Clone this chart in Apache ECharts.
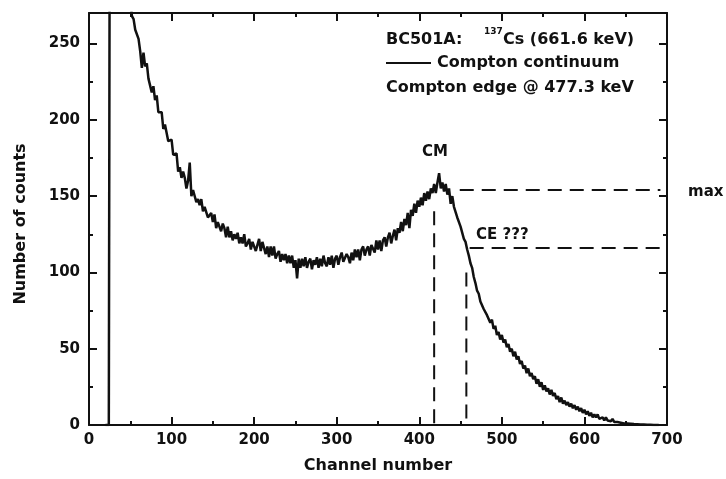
<!DOCTYPE html>
<html>
<head>
<meta charset="utf-8">
<script src="https://cdn.jsdelivr.net/npm/echarts@6/dist/echarts.min.js"></script>
<style>
  html, body { margin: 0; padding: 0; background: #fff; }
  #chart { width: 726px; height: 479px; }
</style>
</head>
<body>
<div id="chart"></div>
<script>
// Channel grid of the spectrum (every 2nd channel, starting at channel 20)
const channelStart = 20;
const channelStep = 2;
// Counts, one value per listed channel
const counts = [
  /*20*/ 0,0,0,620,820,700,600,520,460,415,
  /*40*/ 380,352,328,308,292,279,268,266,259,258,
  /*60*/ 253,245,234,244,235,237,227,228,218,222,
  /*80*/ 213,216,205,206,205,194,197,197,186,185,
  /*100*/ 187,177,176,178,166,169,162,166,162,155,
  /*120*/ 160,172,150,154,155,146,148,144,148,140,
  /*140*/ 143,144,136,136,139,133,138,129,133,134,
  /*160*/ 127,132,129,123,130,123,127,121,125,122,
  /*180*/ 126,119,123,119,125,117,119,122,115,120,
  /*200*/ 121,114,118,122,114,120,119,112,117,110,
  /*220*/ 117,111,117,109,112,114,107,112,108,112,
  /*240*/ 106,111,106,111,103,108,96,109,103,109,
  /*260*/ 104,110,103,107,109,102,108,105,110,103,
  /*280*/ 109,104,111,106,104,110,105,111,103,109,
  /*300*/ 111,105,110,113,107,106,112,110,106,113,
  /*320*/ 108,115,110,115,108,115,117,111,115,117,
  /*340*/ 111,118,117,113,121,115,121,114,121,123,
  /*360*/ 117,123,126,119,124,128,121,129,126,133,
  /*380*/ 127,135,131,139,129,141,137,145,139,147,
  /*400*/ 143,149,144,152,147,153,148,155,152,158,
  /*420*/ 152,159,165,155,159,153,158,151,155,145,
  /*440*/ 150,143,143,136,135,130,129,122,120,115,
  /*460*/ 111,106,103,97,93,88,86,81,80,76,
  /*480*/ 77,72,73,67,69,63,65,59,61,56,
  /*500*/ 59,54,56,51,53,48,50,45,48,43,
  /*520*/ 45,40,42,37,39,34,37,32,34,30,
  /*540*/ 32,27,30,25,28,23,26,22,24,20,
  /*560*/ 23,19,21,17,19,15,18,14,16,13,
  /*580*/ 15,12,14,11,13,10,12,9,11,8,
  /*600*/ 10,7,9,6,8,5,7,5,7,4,
  /*620*/ 4,5,3,5,3,4,2.5,4,2,3,
  /*640*/ 2,3,1.5,2.5,1,2,1,1.5,0.8,1.2,
  /*660*/ 0.6,1,0.5,0.8,0.3,0.6,0.3,0.4,0.2,0.3,
  /*680*/ 0.1,0.2,0,0.1,0,0
];
// Annotation lines (channel, counts)
const cmLine = [[418, 140], [418, 0]];
const maxLine = [[449, 154], [692, 154]];
const ceVLine = [[457, 100], [457, 0]];
const ceHLine = [[461, 116], [692, 116]];
// Axis ranges / ticks
const xRange = [0, 700, 100];
const yRange = [0, 270, 50];

const spectrum = counts.map((c, i) => [channelStart + i * channelStep, c]);

const FONT = 'DejaVu Sans';
const INK = '#111';

function axisCommon(extra) {
  return Object.assign({
    type: 'value',
    axisLine: { show: true, onZero: false, lineStyle: { color: INK, width: 2 } },
    axisTick: { show: true, inside: true, length: 8, lineStyle: { color: INK, width: 2 } },
    minorTick: { show: true, splitNumber: 2, length: 4, lineStyle: { color: INK, width: 2 } },
    splitLine: { show: false },
    minorSplitLine: { show: false }
  }, extra);
}

const dashStyle = { color: INK, width: 2, type: [14, 8] };

const chart = echarts.init(document.getElementById('chart'), null, { renderer: 'canvas' });
const option = {
  backgroundColor: '#fff',
  animation: false,
  grid: { left: 89, right: 59, top: 13, bottom: 51.5, containLabel: false },
  xAxis: [
    axisCommon({
      position: 'bottom', min: xRange[0], max: xRange[1], interval: xRange[2],
      axisLabel: { show: true, margin: 8, color: INK, fontFamily: FONT, fontWeight: 'bold', fontSize: 15 },
      name: 'Channel number', nameLocation: 'middle', nameGap: 33,
      nameTextStyle: { color: INK, fontFamily: FONT, fontWeight: 'bold', fontSize: 16 }
    }),
    axisCommon({
      position: 'top', min: xRange[0], max: xRange[1], interval: xRange[2],
      axisLabel: { show: false }
    })
  ],
  yAxis: [
    axisCommon({
      position: 'left', min: yRange[0], max: yRange[1], interval: yRange[2],
      axisLabel: { show: true, showMaxLabel: false, margin: 9, color: INK, fontFamily: FONT, fontWeight: 'bold', fontSize: 15 }
    }),
    axisCommon({
      position: 'right', min: yRange[0], max: yRange[1], interval: yRange[2],
      axisLabel: { show: false }
    })
  ],
  series: [
    {
      type: 'line', name: 'Compton continuum', data: spectrum,
      xAxisIndex: 0, yAxisIndex: 0, showSymbol: false, symbol: 'none',
      lineStyle: { color: INK, width: 2.5 }, clip: true, z: 5
    },
    { type: 'line', data: cmLine, showSymbol: false, symbol: 'none', lineStyle: dashStyle, z: 4 },
    { type: 'line', data: maxLine, showSymbol: false, symbol: 'none', lineStyle: dashStyle, z: 4, clip: false },
    { type: 'line', data: ceVLine, showSymbol: false, symbol: 'none', lineStyle: dashStyle, z: 4 },
    { type: 'line', data: ceHLine, showSymbol: false, symbol: 'none', lineStyle: dashStyle, z: 4, clip: false }
  ],
  graphic: [
    { type: 'text', x: 21, y: 224, rotation: Math.PI / 2,
      style: { text: 'Number of counts', fill: INK, font: 'bold 16px "DejaVu Sans"', textAlign: 'center', textVerticalAlign: 'middle' } },
    { type: 'text', x: 386, y: 40,
      style: { text: 'BC501A:', fill: INK, font: 'bold 16px "DejaVu Sans"', textAlign: 'left', textVerticalAlign: 'middle' } },
    { type: 'text', x: 484, y: 32,
      style: { text: '137', fill: INK, font: 'bold 9px "DejaVu Sans"', textAlign: 'left', textVerticalAlign: 'middle' } },
    { type: 'text', x: 503, y: 40,
      style: { text: 'Cs (661.6 keV)', fill: INK, font: 'bold 16px "DejaVu Sans"', textAlign: 'left', textVerticalAlign: 'middle' } },
    { type: 'line', shape: { x1: 386, y1: 63, x2: 431, y2: 63 }, style: { stroke: INK, lineWidth: 2 } },
    { type: 'text', x: 437, y: 63,
      style: { text: 'Compton continuum', fill: INK, font: 'bold 16px "DejaVu Sans"', textAlign: 'left', textVerticalAlign: 'middle' } },
    { type: 'text', x: 386, y: 88,
      style: { text: 'Compton edge @ 477.3 keV', fill: INK, font: 'bold 16px "DejaVu Sans"', textAlign: 'left', textVerticalAlign: 'middle' } },
    { type: 'text', x: 435, y: 152,
      style: { text: 'CM', fill: INK, font: 'bold 15px "DejaVu Sans"', textAlign: 'center', textVerticalAlign: 'middle' } },
    { type: 'text', x: 476, y: 235,
      style: { text: 'CE ???', fill: INK, font: 'bold 15px "DejaVu Sans"', textAlign: 'left', textVerticalAlign: 'middle' } },
    { type: 'text', x: 688, y: 192,
      style: { text: 'max', fill: INK, font: 'bold 15px "DejaVu Sans"', textAlign: 'left', textVerticalAlign: 'middle' } }
  ]
};
chart.setOption(option);
</script>
</body>
</html>
